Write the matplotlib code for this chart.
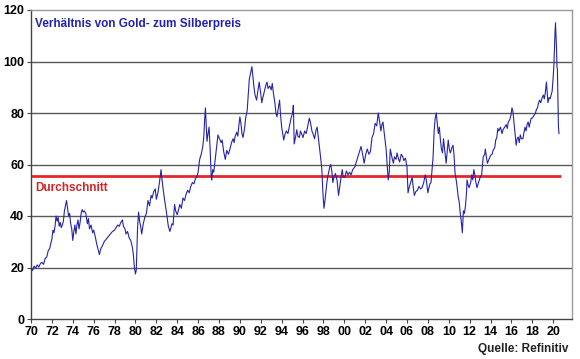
import matplotlib
matplotlib.use("Agg")
import matplotlib.pyplot as plt

plt.rcParams['font.family'] = ['Liberation Sans', 'DejaVu Sans']

title = "Verhältnis von Gold- zum Silberpreis"
avg_label = "Durchschnitt"
source = "Quelle: Refinitiv"
average = 55.5

tick_years = list(range(1970, 2021, 2))
tick_labels = [f"{y % 100:02d}" for y in tick_years]
y_ticks = [0, 20, 40, 60, 80, 100, 120]

years = [
    1970.0, 1970.15, 1970.3, 1970.45, 1970.6, 1970.75, 1970.9, 1971.05, 1971.2, 1971.35,
    1971.5, 1971.65, 1971.8, 1971.9, 1972.0, 1972.1, 1972.2, 1972.3, 1972.4, 1972.5,
    1972.6, 1972.7, 1972.8, 1972.9, 1973.0, 1973.1, 1973.2, 1973.3, 1973.4, 1973.5,
    1973.6, 1973.7, 1973.8, 1973.9, 1974.0, 1974.1, 1974.2, 1974.3, 1974.4, 1974.5,
    1974.6, 1974.7, 1974.8, 1974.9, 1975.0, 1975.1, 1975.25, 1975.4, 1975.5, 1975.6,
    1975.75, 1975.9, 1976.0, 1976.15, 1976.3, 1976.45, 1976.55, 1976.7, 1976.85, 1977.0,
    1977.2, 1977.4, 1977.6, 1977.8, 1978.0, 1978.15, 1978.3, 1978.45, 1978.6, 1978.75,
    1978.85, 1979.0, 1979.1, 1979.25, 1979.4, 1979.55, 1979.7, 1979.8, 1979.9, 1980.0,
    1980.08, 1980.2, 1980.3, 1980.4, 1980.5, 1980.6, 1980.75, 1980.9, 1981.05, 1981.2,
    1981.35, 1981.5, 1981.6, 1981.75, 1981.9, 1982.0, 1982.15, 1982.3, 1982.45, 1982.55,
    1982.65, 1982.8, 1982.95, 1983.05, 1983.15, 1983.3, 1983.4, 1983.5, 1983.6, 1983.75,
    1983.85, 1984.0, 1984.1, 1984.25, 1984.4, 1984.55, 1984.7, 1984.85, 1985.0, 1985.15,
    1985.3, 1985.45, 1985.6, 1985.75, 1985.9, 1986.0, 1986.15, 1986.3, 1986.45, 1986.55,
    1986.62, 1986.7, 1986.78, 1986.85, 1986.95, 1987.05, 1987.15, 1987.25, 1987.3, 1987.4,
    1987.5, 1987.6, 1987.75, 1987.9, 1988.05, 1988.2, 1988.3, 1988.45, 1988.6, 1988.75,
    1988.9, 1989.05, 1989.2, 1989.35, 1989.45, 1989.55, 1989.7, 1989.8, 1989.9, 1990.0,
    1990.1, 1990.2, 1990.3, 1990.45, 1990.55, 1990.7, 1990.8, 1990.9, 1991.0, 1991.15,
    1991.25, 1991.35, 1991.45, 1991.6, 1991.7, 1991.85, 1991.95, 1992.1, 1992.2, 1992.35,
    1992.5, 1992.6, 1992.7, 1992.85, 1993.0, 1993.1, 1993.2, 1993.35, 1993.45, 1993.55,
    1993.65, 1993.8, 1993.9, 1994.0, 1994.1, 1994.2, 1994.3, 1994.45, 1994.6, 1994.75,
    1994.9, 1995.05, 1995.12, 1995.2, 1995.3, 1995.45, 1995.55, 1995.7, 1995.8, 1995.9,
    1996.05, 1996.2, 1996.35, 1996.5, 1996.65, 1996.75, 1996.9, 1997.0, 1997.15, 1997.3,
    1997.4, 1997.5, 1997.65, 1997.75, 1997.85, 1997.95, 1998.05, 1998.15, 1998.3, 1998.4,
    1998.5, 1998.6, 1998.7, 1998.8, 1998.9, 1999.0, 1999.15, 1999.3, 1999.45, 1999.55,
    1999.7, 1999.8, 1999.9, 2000.05, 2000.2, 2000.35, 2000.5, 2000.65, 2000.8, 2001.0,
    2001.15, 2001.3, 2001.45, 2001.6, 2001.75, 2001.9, 2002.05, 2002.2, 2002.35, 2002.5,
    2002.65, 2002.8, 2002.95, 2003.1, 2003.25, 2003.4, 2003.5, 2003.6, 2003.7, 2003.8,
    2003.9, 2004.0, 2004.1, 2004.2, 2004.3, 2004.4, 2004.5, 2004.6, 2004.7, 2004.8,
    2004.95, 2005.05, 2005.2, 2005.3, 2005.45, 2005.6, 2005.7, 2005.85, 2006.0, 2006.1,
    2006.2, 2006.35, 2006.5, 2006.6, 2006.7, 2006.85, 2007.0, 2007.15, 2007.3, 2007.45,
    2007.6, 2007.75, 2007.85, 2008.0, 2008.1, 2008.2, 2008.3, 2008.4, 2008.5, 2008.6,
    2008.7, 2008.8, 2008.9, 2009.0, 2009.1, 2009.2, 2009.3, 2009.4, 2009.5, 2009.6,
    2009.75, 2009.85, 2009.95, 2010.05, 2010.15, 2010.3, 2010.4, 2010.5, 2010.6, 2010.75,
    2010.9, 2011.0, 2011.1, 2011.2, 2011.3, 2011.35, 2011.4, 2011.5, 2011.6, 2011.7,
    2011.75, 2011.85, 2011.95, 2012.1, 2012.2, 2012.3, 2012.4, 2012.5, 2012.6, 2012.7,
    2012.85, 2013.0, 2013.15, 2013.3, 2013.45, 2013.5, 2013.6, 2013.7, 2013.85, 2014.0,
    2014.15, 2014.25, 2014.4, 2014.5, 2014.6, 2014.7, 2014.8, 2014.95, 2015.1, 2015.2,
    2015.35, 2015.5, 2015.6, 2015.7, 2015.85, 2015.95, 2016.05, 2016.15, 2016.25, 2016.35,
    2016.45, 2016.55, 2016.65, 2016.75, 2016.85, 2016.95, 2017.1, 2017.2, 2017.3, 2017.4,
    2017.5, 2017.6, 2017.7, 2017.8, 2017.9, 2018.0, 2018.15, 2018.3, 2018.4, 2018.5,
    2018.6, 2018.7, 2018.8, 2018.95, 2019.05, 2019.15, 2019.25, 2019.35, 2019.45, 2019.5,
    2019.6, 2019.7, 2019.8, 2019.9, 2020.0, 2020.07, 2020.12, 2020.18, 2020.22, 2020.27,
    2020.32, 2020.36, 2020.4, 2020.45, 2020.5, 2020.55,
]

ratio = [
    19.5, 18.8, 20.5, 19.8, 21.0, 20.2, 21.5, 22.0, 21.2, 23.5,
    24.0, 26.5, 27.5, 29.5, 31.0, 34.5, 33.5, 36.0, 40.0, 38.0,
    39.5, 36.0, 37.5, 35.5, 36.5, 38.0, 42.0, 44.0, 46.0, 43.0,
    40.0, 41.0, 37.0, 35.0, 30.5, 34.0, 36.5, 33.0, 36.5, 38.5,
    35.0, 37.5, 41.0, 42.5, 41.5, 42.0, 41.0, 37.0, 39.0, 35.0,
    36.5, 33.5, 34.5, 32.0, 29.0, 26.5, 25.0, 27.5, 28.5, 30.0,
    31.0, 32.0, 33.0, 34.0, 34.5, 35.5, 36.5, 36.0, 37.5, 38.5,
    36.0, 35.0, 33.0, 34.0, 31.5, 30.5, 28.0, 25.0, 20.0, 17.5,
    19.0, 35.0, 41.5, 38.0, 36.0, 33.0, 37.0, 39.5, 41.0, 46.0,
    44.0, 48.0, 47.0, 49.5, 50.5, 46.5, 49.0, 53.0, 58.0, 54.0,
    50.5, 46.0, 42.0, 39.0, 36.0, 34.0, 35.5, 37.0, 36.5, 44.5,
    42.0, 40.5, 42.0, 44.5, 43.0, 47.0, 46.0, 48.5, 50.0, 49.0,
    51.5, 53.0, 52.5, 54.5, 55.5, 57.0, 62.0, 64.0, 67.0, 71.0,
    77.0, 82.0, 75.0, 69.0, 72.0, 74.5, 66.0, 56.0, 54.0, 58.0,
    57.0, 60.5, 66.0, 71.5, 70.0, 68.5, 69.5, 65.0, 62.0, 65.5,
    64.0, 66.0, 68.5, 70.0, 68.5, 71.0, 72.5, 71.0, 75.0, 78.5,
    76.0, 72.0, 70.5, 74.0, 78.0, 81.0, 87.0, 93.0, 95.0, 98.0,
    94.0, 90.0, 87.0, 85.0, 88.0, 92.0, 89.0, 84.0, 86.0, 88.5,
    91.0, 92.0, 89.5, 90.5, 89.0, 91.5, 88.0, 84.0, 80.0, 78.5,
    81.0, 85.0, 79.0, 74.5, 72.0, 69.5, 71.5, 73.0, 72.0, 75.0,
    78.0, 80.0, 83.0, 68.0, 70.0, 73.5, 71.0, 70.5, 73.0, 72.0,
    70.5, 73.0, 72.0, 75.0, 78.0, 76.5, 73.0, 72.0, 70.0, 73.5,
    74.5, 71.0, 66.0, 62.0, 58.0, 49.0, 43.0, 46.0, 52.0, 55.0,
    57.0, 59.0, 60.0, 57.5, 53.0, 55.0, 56.5, 54.0, 48.0, 51.0,
    55.5, 58.0, 55.0, 55.0, 57.5, 56.0, 57.0, 56.0, 58.0, 59.0,
    61.0, 63.0, 65.0, 67.0, 64.0, 60.5, 64.0, 66.0, 64.0, 65.0,
    70.5, 72.0, 76.0, 75.0, 80.0, 76.0, 73.0, 75.5, 76.5, 73.0,
    69.5, 66.0, 60.0, 54.0, 57.0, 66.0, 64.0, 62.0, 60.5, 63.0,
    62.0, 64.5, 62.0, 61.0, 64.0, 63.0, 61.5, 62.5, 59.0, 49.0,
    51.0, 53.0, 55.0, 51.0, 48.0, 49.5, 50.0, 51.5, 50.5, 51.0,
    53.0, 56.0, 54.0, 49.0, 51.0, 52.5, 53.0, 58.0, 63.0, 73.0,
    78.0, 80.0, 76.0, 72.0, 74.5, 69.5, 66.0, 64.5, 70.0, 66.0,
    60.5, 65.0, 69.5, 66.0, 64.5, 66.5, 67.5, 64.0, 56.7, 53.0,
    47.5, 45.5, 41.0, 38.0, 33.5, 38.0, 42.0, 41.0, 44.0, 49.0,
    54.0, 52.0, 51.0, 53.0, 56.0, 54.0, 58.0, 56.0, 53.0, 51.0,
    53.0, 55.0, 56.0, 63.0, 64.0, 66.0, 63.0, 60.5, 62.0, 63.5,
    64.0, 65.5, 66.5, 69.5, 70.5, 74.0, 73.0, 74.5, 72.0, 73.5,
    74.5, 75.5, 74.0, 76.5, 77.5, 79.0, 82.0, 80.5, 76.0, 72.0,
    67.5, 70.0, 70.7, 68.5, 71.5, 70.0, 70.0, 72.5, 74.5, 73.0,
    75.5, 76.5, 74.5, 76.5, 78.0, 78.0, 79.0, 80.0, 81.5, 82.0,
    84.0, 85.0, 84.0, 86.0, 87.0, 85.5, 88.0, 92.0, 87.0, 84.0,
    86.0, 85.5, 87.0, 88.5, 94.0, 99.0, 105.5, 112.0, 115.0, 110.0,
    105.0, 98.0, 97.0, 85.0, 75.0, 72.0,
]

fig = plt.figure(figsize=(5.8, 3.59), dpi=100)
ax = fig.add_axes([31 / 580, 1 - 319 / 359, 541 / 580, 309 / 359])

for v in y_ticks[1:-1]:
    ax.axhline(v, color='#5a5a5a', lw=1.0, zorder=1)

ax.plot(years, ratio, color='#2424a8', lw=0.8, zorder=3)
ax.plot([1970, 2020.7], [average, average], color='#e8262a', lw=2.0, zorder=2, solid_capstyle='butt')

ax.set_xlim(1970, 2021.8)
ax.set_ylim(0, 120)
ax.set_xticks(tick_years)
ax.set_xticklabels(tick_labels)
ax.set_yticks(y_ticks)
ax.tick_params(axis='both', labelsize=9, length=3, width=0.8, color='#444444', pad=2)
for lab in ax.get_xticklabels() + ax.get_yticklabels():
    lab.set_fontweight('bold')

ax.spines['left'].set_color('#444444')
ax.spines['bottom'].set_color('#444444')
ax.spines['top'].set_color('#9a9a9a')
ax.spines['right'].set_color('#9a9a9a')
for s in ax.spines.values():
    s.set_linewidth(1.0)

ax.text(0.008, 0.975, title, transform=ax.transAxes, color='#2323b0', fontsize=8.5,
        fontweight='bold', ha='left', va='top')
ax.text(0.008, average - 2.2, avg_label, color='#d42424', fontsize=8.5, fontweight='bold',
        ha='left', va='top', transform=ax.get_yaxis_transform())
fig.text(568 / 580, 1 - 349 / 359, source, fontsize=8.5, fontweight='bold', ha='right',
         va='center', color='#222222')

fig.savefig('out.png', dpi=100)
